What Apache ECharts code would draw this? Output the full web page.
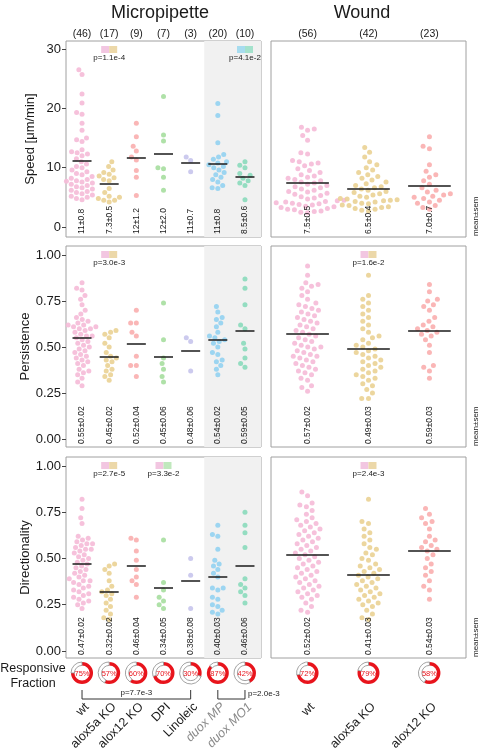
<!DOCTYPE html>
<html><head><meta charset="utf-8">
<script src="https://cdn.jsdelivr.net/npm/echarts@6/dist/echarts.min.js"></script>
<style>html,body{margin:0;padding:0;background:#fff}#c{width:480px;height:750px}</style>
</head><body><div id="c"></div>
<script>
// ---------------- DATA ----------------
const microCats = ['wt','alox5a KO','alox12 KO','DPI','Linoleic','duox MP','duox MO1'];
const woundCats = ['wt','alox5a KO','alox12 KO'];
const microN = [46,17,9,7,3,20,10];
const woundN = [56,42,23];

const speedTicks = [0,10,20,30];
const fracTicks = [0,0.25,0.5,0.75,1];

const speedMicro = [
 [26.5,25.7,22.4,20.9,19.3,19.0,17.5,16.3,15.0,14.7,14.4,13.0,12.7,12.5,12.3,12.0,11.5,11.0,10.6,10.2,10.0,9.6,9.3,9.0,8.8,8.5,8.2,8.0,7.8,7.6,7.4,7.2,7.0,6.8,6.6,6.4,6.2,6.0,5.8,5.6,5.4,5.2,5.0,4.8,4.6,7.7],
 [11.0,10.2,9.6,9.2,8.9,8.6,8.3,8.0,7.8,6.5,5.8,5.2,5.0,4.8,4.5,4.2,4.5],
 [17.5,15.2,13.6,12.8,11.8,11.3,9.5,8.4,5.3],
 [22.0,15.5,14.5,10.0,9.8,8.4,6.2],
 [11.8,11.2,9.3],
 [20.8,18.8,14.2,12.2,11.8,11.4,11.0,10.8,10.5,10.2,10.0,9.6,9.2,8.8,8.4,8.0,7.6,7.0,6.6,6.5],
 [11.0,10.4,10.0,9.0,8.7,8.2,7.8,7.4,7.0,4.6]
];
const speedWound = [
 [16.8,16.5,16.3,15.4,14.6,12.5,12.3,11.2,11.0,10.8,10.6,10.3,9.8,9.5,9.2,8.8,8.6,8.4,8.2,8.0,7.8,7.6,7.4,7.2,7.0,6.8,6.6,6.4,6.2,6.0,5.9,5.7,5.5,5.3,5.1,4.9,4.7,4.5,4.4,4.3,4.2,4.1,4.0,3.9,3.8,3.7,3.5,3.4,3.3,3.1,3.0,2.9,2.7,2.6,2.5,2.4],
 [13.4,12.6,11.8,11.0,10.5,10.0,9.6,9.2,8.8,8.5,8.2,7.9,7.6,7.3,7.0,6.8,6.6,6.4,6.2,6.0,5.8,5.6,5.4,5.2,5.0,4.8,4.7,4.6,4.5,4.4,4.3,4.2,4.0,3.9,3.7,3.6,3.4,3.3,3.1,3.0,2.8,2.7],
 [15.2,13.6,13.2,10.5,9.4,8.8,8.4,7.8,7.2,6.6,6.2,5.9,5.6,5.4,5.2,5.0,4.8,4.5,4.2,4.0,3.6,3.3,3.0]
];
const persMicro = [
 [0.85,0.82,0.81,0.78,0.76,0.73,0.70,0.68,0.66,0.65,0.64,0.63,0.62,0.62,0.61,0.61,0.60,0.59,0.58,0.57,0.56,0.56,0.55,0.54,0.53,0.52,0.51,0.50,0.49,0.48,0.47,0.46,0.45,0.44,0.43,0.42,0.41,0.40,0.38,0.37,0.36,0.35,0.33,0.31,0.29,0.60],
 [0.59,0.58,0.57,0.55,0.52,0.50,0.47,0.45,0.44,0.43,0.42,0.40,0.38,0.37,0.35,0.34,0.32],
 [0.70,0.63,0.63,0.58,0.56,0.45,0.40,0.40,0.34],
 [0.74,0.54,0.44,0.41,0.38,0.34,0.31],
 [0.55,0.53,0.37],
 [0.72,0.69,0.66,0.65,0.63,0.61,0.58,0.56,0.55,0.54,0.53,0.52,0.50,0.47,0.46,0.43,0.42,0.40,0.38,0.35],
 [0.87,0.82,0.73,0.62,0.60,0.52,0.49,0.44,0.41,0.39]
];
const persWound = [
 [0.94,0.89,0.85,0.84,0.83,0.82,0.80,0.78,0.76,0.74,0.73,0.72,0.71,0.70,0.69,0.68,0.67,0.66,0.65,0.64,0.63,0.62,0.61,0.60,0.59,0.58,0.57,0.56,0.55,0.54,0.53,0.52,0.51,0.50,0.50,0.49,0.48,0.47,0.46,0.45,0.45,0.44,0.43,0.42,0.41,0.40,0.39,0.38,0.37,0.36,0.35,0.33,0.32,0.29,0.28,0.26],
 [0.89,0.78,0.76,0.74,0.72,0.70,0.68,0.66,0.64,0.62,0.60,0.58,0.56,0.55,0.54,0.52,0.51,0.50,0.49,0.48,0.47,0.46,0.45,0.44,0.43,0.42,0.41,0.40,0.39,0.38,0.37,0.36,0.35,0.34,0.33,0.32,0.30,0.29,0.27,0.25,0.22,0.22],
 [0.84,0.80,0.76,0.75,0.73,0.72,0.70,0.66,0.64,0.62,0.61,0.60,0.59,0.58,0.57,0.56,0.54,0.51,0.47,0.40,0.39,0.37,0.33]
];
const dirMicro = [
 [0.82,0.77,0.72,0.69,0.61,0.60,0.59,0.58,0.57,0.56,0.55,0.54,0.53,0.52,0.51,0.50,0.49,0.48,0.47,0.46,0.45,0.44,0.43,0.42,0.41,0.40,0.39,0.38,0.38,0.37,0.36,0.35,0.34,0.33,0.32,0.31,0.30,0.29,0.28,0.27,0.26,0.25,0.23,0.55,0.58,0.62],
 [0.47,0.46,0.44,0.42,0.38,0.35,0.33,0.32,0.31,0.30,0.28,0.26,0.24,0.22,0.20,0.18,0.17],
 [0.61,0.60,0.54,0.49,0.44,0.40,0.38,0.36,0.29],
 [0.60,0.37,0.33,0.29,0.27,0.25,0.23],
 [0.50,0.41,0.23],
 [0.68,0.63,0.62,0.55,0.49,0.47,0.46,0.44,0.42,0.40,0.34,0.34,0.33,0.29,0.28,0.25,0.24,0.22,0.20,0.21],
 [0.75,0.68,0.64,0.56,0.39,0.36,0.34,0.32,0.30,0.26]
];
const dirWound = [
 [0.86,0.84,0.80,0.79,0.78,0.76,0.74,0.72,0.71,0.70,0.69,0.68,0.67,0.66,0.65,0.64,0.63,0.62,0.61,0.60,0.59,0.58,0.57,0.56,0.55,0.54,0.53,0.52,0.51,0.50,0.49,0.48,0.47,0.46,0.45,0.44,0.43,0.42,0.41,0.40,0.39,0.38,0.37,0.36,0.35,0.34,0.33,0.32,0.31,0.30,0.29,0.28,0.26,0.24,0.22,0.21],
 [0.82,0.70,0.69,0.66,0.64,0.62,0.60,0.58,0.56,0.55,0.53,0.52,0.50,0.49,0.47,0.46,0.45,0.44,0.43,0.42,0.41,0.40,0.39,0.38,0.37,0.36,0.35,0.34,0.33,0.32,0.31,0.30,0.29,0.28,0.27,0.26,0.25,0.24,0.22,0.20,0.18,0.17],
 [0.77,0.74,0.72,0.70,0.69,0.66,0.62,0.60,0.59,0.57,0.56,0.55,0.54,0.52,0.50,0.47,0.45,0.43,0.41,0.38,0.35,0.33,0.28]
];

const speedMicroMean = [11.2,7.3,11.7,12.3,10.8,10.7,8.5];
const speedWoundMean = [7.5,6.5,7.0];
const persMicroMean = [0.55,0.45,0.52,0.45,0.48,0.54,0.59];
const persWoundMean = [0.57,0.49,0.59];
const dirMicroMean = [0.47,0.32,0.46,0.34,0.38,0.40,0.46];
const dirWoundMean = [0.52,0.41,0.54];

const speedMicroLab = ['11±0.8','7.3±0.5','12±1.2','12±2.0','11±0.7','11±0.8','8.5±0.6'];
const speedWoundLab = ['7.5±0.5','6.5±0.4','7.0±0.7'];
const persMicroLab = ['0.55±0.02','0.45±0.02','0.52±0.04','0.45±0.06','0.48±0.06','0.54±0.02','0.59±0.05'];
const persWoundLab = ['0.57±0.02','0.49±0.03','0.59±0.03'];
const dirMicroLab = ['0.47±0.02','0.32±0.02','0.46±0.04','0.34±0.05','0.38±0.08','0.40±0.03','0.46±0.06'];
const dirWoundLab = ['0.52±0.02','0.41±0.03','0.54±0.03'];

const microFrac = [75,57,60,70,30,87,42];
const woundFrac = [72,79,58];

const pvals = [
 {row:0,col:0,a:0,b:1,text:'p=1.1e-4'},
 {row:0,col:0,a:5,b:6,text:'p=4.1e-2'},
 {row:1,col:0,a:0,b:1,text:'p=3.0e-3'},
 {row:1,col:1,a:0,b:1,text:'p=1.6e-2'},
 {row:2,col:0,a:0,b:1,text:'p=2.7e-5'},
 {row:2,col:0,a:0,b:3,text:'p=3.3e-2'},
 {row:2,col:1,a:0,b:1,text:'p=2.4e-3'}
];
const brackets = [{a:0,b:4,text:'p=7.7e-3',pos:'mid'},{a:5,b:6,text:'p=2.0e-3',pos:'right'}];

// ---------------- STYLE ----------------
const FONT = '"Liberation Sans", Arial, Helvetica, sans-serif';
const microColors = ['#f5bad7','#ead193','#f9aeae','#a6de9f','#c6c4ec','#92d2f1','#8adabb'];
const woundColors = ['#f5bad7','#ead193','#f9aeae'];
const boxColors = {0:'#f2c6e1',1:'#ecd8a9',3:'#c0e8bd',5:'#a7dcef',6:'#a4e2cc'};
const microGray = [false,false,false,false,false,true,true];

const cols = [
 {left:66,width:195,min:-0.59,max:6.59,cats:microCats,n:microN,colors:microColors,frac:microFrac,D:5.7},
 {left:271,width:195,min:-0.6,max:2.6,cats:woundCats,n:woundN,colors:woundColors,frac:woundFrac,D:6.8}
];
const rows = [
 {top:41,height:196,min:-1.69,max:31.35,ticks:speedTicks,fmt:v=>String(v),name:'Speed [μm/min]',
  data:[speedMicro,speedWound],means:[speedMicroMean,speedWoundMean],labs:[speedMicroLab,speedWoundLab]},
 {top:246,height:201,min:-0.043,max:1.049,ticks:fracTicks,fmt:v=>v.toFixed(2),name:'Persistence',
  data:[persMicro,persWound],means:[persMicroMean,persWoundMean],labs:[persMicroLab,persWoundLab]},
 {top:457,height:201,min:-0.038,max:1.049,ticks:fracTicks,fmt:v=>v.toFixed(2),name:'Directionality',
  data:[dirMicro,dirWound],means:[dirMicroMean,dirWoundMean],labs:[dirMicroLab,dirWoundLab]}
];

const chart = echarts.init(document.getElementById('c'), null, {renderer:'canvas'});

function baseOption(scatterData) {
  const grid=[], xAxis=[], yAxis=[], series=[];
  rows.forEach((row,r)=>{
    cols.forEach((col,c)=>{
      const gi=r*2+c;
      grid.push({left:col.left,width:col.width,top:row.top,height:row.height,show:true,borderColor:'#a0a0a0',borderWidth:1,backgroundColor:'transparent'});
      xAxis.push({type:'value',gridIndex:gi,min:col.min,max:col.max,show:false,axisLine:{onZero:false}});
      yAxis.push({type:'value',gridIndex:gi,min:row.min,max:row.max,show:c===0,position:'left',
        splitLine:{show:false},axisLine:{show:false,onZero:false},
        axisTick:{show:true,length:4,customValues:row.ticks,lineStyle:{color:'#444'}},
        axisLabel:{customValues:row.ticks,formatter:row.fmt,fontSize:13,color:'#1a1a1a',margin:5,fontFamily:FONT},
        name:c===0?row.name:'',nameLocation:'middle',nameGap:29,nameRotate:90,
        nameTextStyle:{fontSize:13,color:'#1a1a1a',fontFamily:FONT}});
      if (c===0) {
        series.push({type:'scatter',id:'shade'+r,xAxisIndex:gi,yAxisIndex:gi,data:[],silent:true,z:1,
          markArea:{silent:true,itemStyle:{color:'#f1f1f1'},
            data:[[{xAxis:4.5,yAxis:row.min},{xAxis:col.max,yAxis:row.max}]]}});
      }
      row.data[c].forEach((vals,g)=>{
        series.push({type:'scatter',id:'s'+gi+'_'+g,xAxisIndex:gi,yAxisIndex:gi,
          data:scatterData?scatterData[gi][g]:[],symbolSize:5,silent:true,z:3,
          itemStyle:{color:col.colors[g],opacity:0.9}});
      });
      series.push({type:'lines',id:'m'+gi,coordinateSystem:'cartesian2d',xAxisIndex:gi,yAxisIndex:gi,silent:true,z:5,
        lineStyle:{color:'#1a1a1a',width:1.6,opacity:1},
        data:row.means[c].map((m,g)=>({coords:[[g-0.35,m],[g+0.35,m]]}))});
    });
  });
  return {animation:false,backgroundColor:'#fff',grid,xAxis,yAxis,series};
}

chart.setOption(baseOption(null));

function swarm(ys,d){
  const idx=ys.map((v,i)=>i).sort((a,b)=>ys[b]-ys[a]);
  const placed=[], xs=new Array(ys.length);
  idx.forEach(i=>{
    const y=ys[i]; const cands=[0];
    placed.forEach(p=>{const dy=Math.abs(p.y-y); if(dy<d){const dx=Math.sqrt(d*d-dy*dy); cands.push(p.x+dx,p.x-dx);}});
    cands.sort((a,b)=>Math.abs(a)-Math.abs(b)||a-b);
    let ch=0;
    for(const c of cands){ if(placed.every(p=>(p.x-c)*(p.x-c)+(p.y-y)*(p.y-y)>=d*d-1e-6)){ch=c;break;} }
    placed.push({x:ch,y}); xs[i]=ch;
  });
  return xs;
}

const scatterData=[];
const px=(gi,x,y)=>chart.convertToPixel({gridIndex:gi},[x,y]);
rows.forEach((row,r)=>{
  cols.forEach((col,c)=>{
    const gi=r*2+c;
    const ppu=px(gi,1,0)[0]-px(gi,0,0)[0];
    scatterData[gi]=row.data[c].map((vals,g)=>{
      const ys=vals.map(v=>px(gi,g,v)[1]);
      const xs=swarm(ys,col.D);
      return vals.map((v,i)=>[g+xs[i]/ppu,v]);
    });
  });
});

const opt=baseOption(scatterData);
const graphic=[];
const T=(text,x,y,o)=>Object.assign({type:'text',x,y,silent:true,z:10,style:Object.assign({text,fontFamily:FONT,fontSize:10,fill:'#1a1a1a',align:'center',verticalAlign:'middle',textAlign:'center',textVerticalAlign:'middle'},o&&o.style||{})},o&&o.el||{});

graphic.push(T('Micropipette',160,13,{style:{fontSize:18}}));
graphic.push(T('Wound',362,13,{style:{fontSize:18}}));

cols.forEach((col,c)=>{
  col.cats.forEach((cat,g)=>{
    const x=px(c,g,0)[0];
    graphic.push(T('('+col.n[g]+')',x,34,{style:{fontSize:10.5}}));
  });
});

rows.forEach((row,r)=>{
  const bottom=row.top+row.height;
  cols.forEach((col,c)=>{
    const gi=r*2+c;
    row.labs[c].forEach((lab,g)=>{
      const x=px(gi,g,0)[0];
      graphic.push(T(lab,x,bottom-3,{style:{fontSize:8.5,align:'left',textAlign:'left'},el:{rotation:Math.PI/2}}));
    });
  });
  graphic.push(T('mean±sem',476,bottom-1,{style:{fontSize:8,align:'left',textAlign:'left'},el:{rotation:Math.PI/2}}));
});

pvals.forEach(p=>{
  const row=rows[p.row]; const gi=p.row*2+p.col;
  const cx=px(gi,p.b,0)[0]; const top=row.top+5;
  graphic.push({type:'rect',silent:true,z:10,shape:{x:cx-8,y:top,width:8,height:7},style:{fill:boxColors[p.a]}});
  graphic.push({type:'rect',silent:true,z:10,shape:{x:cx,y:top,width:8,height:7},style:{fill:boxColors[p.b]}});
  graphic.push(T(p.text,cx,top+12,{style:{fontSize:8}}));
});

// responsive fraction donuts
const donutY=673;
const pies=[];
graphic.push(T('Responsive',33,669,{style:{fontSize:12.5}}));
graphic.push(T('Fraction',33,684,{style:{fontSize:12.5}}));
cols.forEach((col,c)=>{
  col.frac.forEach((f,g)=>{
    const x=px(4+c,g,0)[0];
    pies.push({type:'pie',center:[x,donutY],radius:[7.6,11],startAngle:90,clockwise:true,silent:true,z:4,
      label:{show:false},labelLine:{show:false},
      data:[{value:f,itemStyle:{color:'#e8141c',borderWidth:0}},{value:100-f,itemStyle:{color:'#fff',borderColor:'#8c8c8c',borderWidth:0.8}}]});
    graphic.push(T(f+'%',x,donutY+0.5,{style:{fontSize:7.5,fill:'#e8141c'}}));
  });
});

brackets.forEach(b=>{
  const xa=px(4,b.a,0)[0], xb=px(4,b.b,0)[0];
  graphic.push({type:'polyline',silent:true,shape:{points:[[xa,690],[xa,699],[xb,699],[xb,690]]},style:{stroke:'#333',lineWidth:1,fill:null}});
  if(b.pos==='mid') graphic.push(T(b.text,(xa+xb)/2,693,{style:{fontSize:8}}));
  else graphic.push(T(b.text,xb+3,694,{style:{fontSize:8,align:'left',textAlign:'left'}}));
});

cols.forEach((col,c)=>{
  col.cats.forEach((cat,g)=>{
    const x=px(4+c,g,0)[0];
    const gray=c===0&&microGray[g];
    graphic.push(T(cat,x+5,705,{style:{fontSize:12.5,align:'right',textAlign:'right',fill:gray?'#8a8a8a':'#1a1a1a',fontStyle:gray?'italic':'normal'},el:{rotation:Math.PI/4}}));
  });
});

opt.series=opt.series.concat(pies);
opt.graphic={elements:graphic};
chart.setOption(opt,true);
</script></body></html>
